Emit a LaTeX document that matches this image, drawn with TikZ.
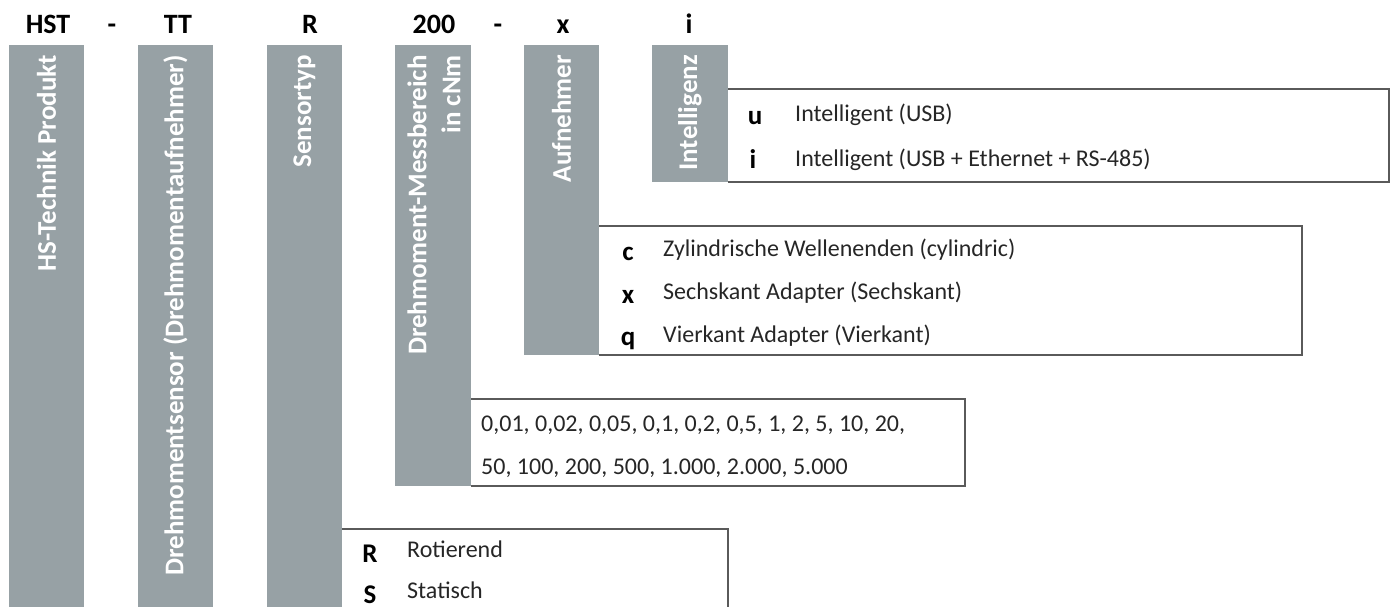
\documentclass[tikz,border=0pt]{standalone}
\usepackage{fontspec}
\setmainfont{Carlito}
\definecolor{bargray}{RGB}{151,161,165}
\definecolor{linegray}{RGB}{90,90,90}
\definecolor{txt}{RGB}{38,38,38}
\begin{document}
\begin{tikzpicture}[x=1pt,y=-1pt,
  bar/.style={fill=bargray,draw=none},
  bartext/.style={rotate=90,anchor=east,inner sep=0pt,text=white,font=\fontsize{27}{34}\selectfont\bfseries,align=right},
  head/.style={anchor=base,inner sep=0pt,font=\fontsize{28}{32}\selectfont\bfseries,text=black},
  code/.style={anchor=base,inner sep=0pt,font=\fontsize{27}{30}\selectfont\bfseries,text=black},
  desc/.style={anchor=base west,inner sep=0pt,font=\fontsize{24}{29}\selectfont,text=txt},
  boxline/.style={draw=linegray,line width=1.3pt}]
\useasboundingbox (0,0) rectangle (1392,607);
% header
\node[head] (h1) at (48,34) {HST};
\node[head] (h2) at (112,34) {-};
\node[head] (h3) at (178,34) {TT};
\node[head] (h4) at (310,34) {R};
\node[head] (h5) at (434,34) {200};
\node[head] (h6) at (498,34) {-};
\node[head] (h7) at (563,34) {x};
\node[head] (h8) at (689,34) {i};
% boxes (drawn first, bars cover left edges)
\draw[boxline] (728,89) -- (1389,89) -- (1389,182) -- (728,182);
\draw[boxline] (599,226) -- (1302,226) -- (1302,355) -- (599,355);
\draw[boxline] (471,399) -- (965,399) -- (965,486) -- (471,486);
\draw[boxline] (342,529) -- (728,529) -- (728,608);
% bars
\fill[bar] (9,45) rectangle (84,607);
\fill[bar] (138,45) rectangle (213,607);
\fill[bar] (267,45) rectangle (342,607);
\fill[bar] (395,45) rectangle (471,486);
\fill[bar] (524,45) rectangle (599,355);
\fill[bar] (652,45) rectangle (728,182);
% bar texts
\node[bartext] (b1) at (46.5,55) {HS-Technik Produkt};
\node[bartext] (b2) at (175.5,55) {Drehmomentsensor (Drehmomentaufnehmer)};
\node[bartext] (b3) at (304.5,55) {Sensortyp};
\node[bartext] (b4) at (434,55) {Drehmoment-Messbereich\\in cNm};
\node[bartext] (b5) at (561.5,55) {Aufnehmer};
\node[bartext] (b6) at (690,55) {Intelligenz};
% Intelligenz options
\node[code] (cu) at (755,125) {u};
\node[desc] (du) at (795,122) {Intelligent (USB)};
\node[code] (ci) at (753,168) {i};
\node[desc] (di) at (795,166) {Intelligent (USB + Ethernet + RS-485)};
% Aufnehmer options
\node[code] (cc) at (628,260) {c};
\node[desc] (dc) at (663,256) {Zylindrische Wellenenden (cylindric)};
\node[code] (cx) at (628,303) {x};
\node[desc] (dx) at (663,299) {Sechskant Adapter (Sechskant)};
\node[code] (cq) at (628,345) {q};
\node[desc] (dq) at (663,342) {Vierkant Adapter (Vierkant)};
% Messbereich
\node[desc] (m1) at (481,431) {0,01, 0,02, 0,05, 0,1, 0,2, 0,5, 1, 2, 5, 10, 20,};
\node[desc] (m2) at (481,474) {50, 100, 200, 500, 1.000, 2.000, 5.000};
% Sensortyp
\node[code] (cr) at (370,562) {R};
\node[desc] (dr) at (407,557) {Rotierend};
\node[code] (cs) at (370,603) {S};
\node[desc] (ds) at (407,598) {Statisch};
\end{tikzpicture}
\end{document}
